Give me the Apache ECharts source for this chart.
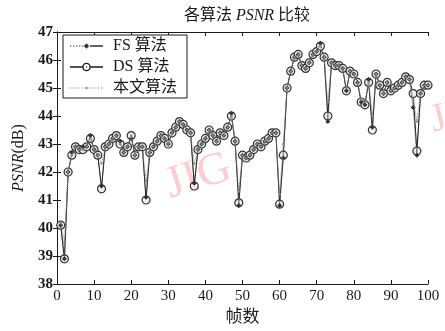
<!DOCTYPE html>
<html>
<head>
<meta charset="utf-8">
<script src="https://cdn.jsdelivr.net/npm/echarts@6/dist/echarts.min.js"></script>
<style>
  html, body { margin: 0; padding: 0; background: #fff; }
  #chart { width: 445px; height: 331px; }
</style>
</head>
<body>
<div id="chart"></div>
<script>
// 帧数 1..100
const frames = Array.from({ length: 100 }, (_, i) => i + 1)
const yTicks = [38, 39, 40, 41, 42, 43, 44, 45, 46, 47]

// DS 算法
const dsValues = [
  40.1, 38.9, 42.0, 42.6, 42.9, 42.8, 42.8, 42.9, 43.2, 42.8,
  42.6, 41.4, 42.9, 43.0, 43.2, 43.3, 43.0, 42.7, 42.9, 43.3,
  42.6, 42.9, 42.9, 41.0, 42.7, 42.9, 43.1, 43.3, 43.2, 43.0,
  43.4, 43.6, 43.8, 43.7, 43.5, 43.4, 41.5, 42.8, 43.0, 43.2,
  43.5, 43.3, 43.1, 43.4, 43.3, 43.6, 44.0, 43.1, 40.9, 42.6,
  42.5, 42.6, 42.8, 43.0, 42.9, 43.1, 43.2, 43.4, 43.4, 40.85,
  42.6, 45.0, 45.6, 46.1, 46.2, 45.8, 45.7, 45.9, 46.2, 46.3,
  46.5, 46.1, 44.0, 45.9, 45.8, 45.8, 45.7, 44.9, 45.6, 45.5,
  45.2, 44.5, 44.4, 45.2, 43.5, 45.5, 45.1, 44.8, 45.2, 44.9,
  45.0, 45.1, 45.2, 45.4, 45.3, 44.8, 42.75, 44.8, 45.1, 45.1
]

// FS 算法
const fsValues = [
  40.1, 38.9, 42.0, 42.7, 42.9, 42.8, 42.9, 42.9, 43.3, 42.8,
  42.6, 41.5, 42.9, 43.0, 43.2, 43.3, 43.1, 42.7, 42.9, 43.2,
  42.6, 42.9, 42.9, 41.1, 42.7, 42.9, 43.1, 43.3, 43.2, 43.0,
  43.4, 43.6, 43.8, 43.7, 43.5, 43.4, 41.6, 42.8, 43.0, 43.2,
  43.5, 43.3, 43.1, 43.4, 43.3, 43.6, 44.1, 43.1, 40.8, 42.6,
  42.5, 42.6, 42.8, 43.0, 42.9, 43.1, 43.2, 43.4, 43.4, 40.8,
  42.5, 45.0, 45.6, 46.1, 46.2, 45.8, 45.7, 45.9, 46.2, 46.3,
  46.6, 46.1, 43.8, 45.9, 45.8, 45.8, 45.7, 44.9, 45.6, 45.5,
  45.2, 44.5, 44.4, 45.3, 43.6, 45.5, 45.1, 44.8, 45.2, 44.9,
  45.0, 45.1, 45.2, 45.4, 45.3, 44.3, 42.6, 44.8, 45.1, 45.1
]

// 本文算法
const oursValues = [
  40.2, 39.5, 42.0, 42.6, 42.9, 42.8, 42.8, 42.9, 43.2, 42.8,
  42.6, 42.3, 42.9, 43.0, 43.2, 43.3, 43.0, 42.7, 42.9, 43.3,
  42.6, 42.9, 42.9, 41.7, 42.7, 42.9, 43.1, 43.3, 43.2, 43.0,
  43.4, 43.6, 43.8, 43.7, 43.5, 43.4, 42.3, 42.8, 43.0, 43.2,
  43.5, 43.3, 43.1, 43.4, 43.3, 43.6, 44.0, 43.1, 41.3, 42.6,
  42.5, 42.6, 42.8, 43.0, 42.9, 43.1, 43.2, 43.4, 43.4, 41.2,
  43.0, 45.0, 45.6, 46.1, 46.2, 45.8, 45.7, 45.9, 46.2, 46.3,
  46.5, 46.1, 44.5, 45.9, 45.8, 45.8, 45.7, 45.0, 45.6, 45.5,
  45.2, 44.6, 44.5, 45.2, 44.0, 45.5, 45.1, 44.8, 45.2, 44.9,
  45.0, 45.1, 45.2, 45.4, 45.3, 44.6, 43.8, 44.8, 45.1, 45.1
]

const serif = "'Liberation Serif', 'Noto Sans CJK SC', serif"
const ink = '#1a1a1a'

const pairs = (vals) => frames.map((f, i) => [f, vals[i]])

// 图例图标: 33x14 的小路径, 线 + 标记
const box = 'M0,0M33,14'
const dash = (x0, x1) => {
  let s = ''
  for (let x = x0; x < x1; x += 3) s += `M${x},6.4L${x + 1.3},6.4L${x + 1.3},7.6L${x},7.6Z`
  return s
}
const bar = (x0, x1) => `M${x0},6.2L${x1},6.2L${x1},7.8L${x0},7.8Z`
const fsIcon = 'path://' + box + dash(0, 13) + 'M16.5,4.3L19.2,7L16.5,9.7L13.8,7Z' + bar(20, 33)
const dsIcon = 'path://' + box + bar(0, 12.2) + bar(20.8, 33) +
  'M12.2,7A4.3,4.3 0 1,0 20.8,7A4.3,4.3 0 1,0 12.2,7Z' +
  'M13.6,7A2.9,2.9 0 1,1 19.4,7A2.9,2.9 0 1,1 13.6,7Z' +
  'M15.8,7A0.7,0.7 0 1,0 17.2,7A0.7,0.7 0 1,0 15.8,7Z'
const oursIcon = 'path://' + box + dash(0, 14) + 'M15.3,7A1.2,1.2 0 1,0 17.7,7A1.2,1.2 0 1,0 15.3,7Z' + dash(19, 33)

const chart = echarts.init(document.getElementById('chart'))

const axisCommon = {
  axisLine: { show: true, lineStyle: { color: ink, width: 1 } },
  axisTick: { show: true, inside: true, length: 4, lineStyle: { color: ink } },
  splitLine: { show: false }
}

const option = {
  backgroundColor: '#fff',
  animation: false,
  title: {
    text: '各算法 {i|PSNR} 比较',
    left: 242,
    textAlign: 'center',
    top: 3,
    textStyle: {
      fontFamily: serif,
      fontSize: 16,
      fontWeight: 'normal',
      color: ink,
      rich: { i: { fontFamily: serif, fontStyle: 'italic', fontSize: 16, color: ink } }
    }
  },
  grid: { left: 57, right: 17, top: 32, bottom: 45 },
  legend: {
    orient: 'vertical',
    left: 63,
    top: 35,
    padding: [3, 10, 2, 7],
    itemWidth: 33,
    itemHeight: 14,
    itemGap: 5,
    borderColor: ink,
    borderWidth: 1,
    backgroundColor: '#fff',
    textStyle: { fontFamily: serif, fontSize: 16, lineHeight: 16, color: ink, padding: [0, 0, 0, 5] },
    data: [
      { name: 'FS 算法', icon: fsIcon, itemStyle: { color: '#333', borderWidth: 0 } },
      { name: 'DS 算法', icon: dsIcon, itemStyle: { color: ink, borderWidth: 0 } },
      { name: '本文算法', icon: oursIcon, itemStyle: { color: '#8a8a8a', borderWidth: 0 } }
    ]
  },
  xAxis: [
    {
      type: 'value',
      min: 0,
      max: 100,
      interval: 10,
      position: 'bottom',
      name: '帧数',
      nameLocation: 'middle',
      nameGap: 25,
      nameTextStyle: { fontFamily: serif, fontSize: 17, color: ink },
      axisLabel: { fontFamily: serif, fontSize: 15, color: ink, margin: 5 },
      ...axisCommon
    },
    {
      type: 'value',
      min: 0,
      max: 100,
      interval: 10,
      position: 'top',
      axisLabel: { show: false },
      ...axisCommon
    }
  ],
  yAxis: [
    {
      type: 'value',
      min: yTicks[0],
      max: yTicks[yTicks.length - 1],
      interval: 1,
      position: 'left',
      name: '{i|PSNR}(dB)',
      nameLocation: 'middle',
      nameGap: 29,
      nameRotate: 90,
      nameTextStyle: {
        fontFamily: serif,
        fontSize: 16,
        color: ink,
        rich: { i: { fontFamily: serif, fontStyle: 'italic', fontSize: 16, color: ink } }
      },
      axisLabel: { fontFamily: serif, fontSize: 15, fontWeight: 'bold', color: ink, margin: 4 },
      ...axisCommon
    },
    {
      type: 'value',
      min: yTicks[0],
      max: yTicks[yTicks.length - 1],
      interval: 1,
      position: 'right',
      axisLabel: { show: false },
      ...axisCommon
    }
  ],
  graphic: [
    {
      type: 'text',
      left: 160,
      top: 145,
      rotation: 0.3,
      style: { text: 'JIG', font: "46px 'Liberation Serif'", fill: 'rgba(245,110,120,0.35)' },
      z: 0
    },
    {
      type: 'text',
      left: 426,
      top: 88,
      rotation: 0.25,
      style: { text: 'JIG', font: "40px 'Liberation Serif'", fill: 'rgba(245,110,120,0.35)' },
      z: 0
    }
  ],
  series: [
    {
      name: 'DS 算法',
      type: 'line',
      data: pairs(dsValues),
      symbol: 'circle',
      symbolSize: 8,
      showAllSymbol: true,
      lineStyle: { color: '#222', width: 1 },
      itemStyle: { color: '#eeeeee', borderColor: '#333', borderWidth: 1.2 },
      z: 3
    },
    {
      name: 'FS 算法',
      type: 'line',
      data: pairs(fsValues),
      symbol: 'diamond',
      symbolSize: 5,
      showAllSymbol: true,
      lineStyle: { color: '#333', width: 1, type: 'dotted' },
      itemStyle: { color: '#333' },
      z: 4
    },
    {
      name: '本文算法',
      type: 'line',
      data: pairs(oursValues),
      symbol: 'circle',
      symbolSize: 2.5,
      showAllSymbol: true,
      lineStyle: { color: '#888', width: 1, type: 'dotted' },
      itemStyle: { color: '#888' },
      z: 5
    }
  ]
}

chart.setOption(option)
</script>
</body>
</html>
